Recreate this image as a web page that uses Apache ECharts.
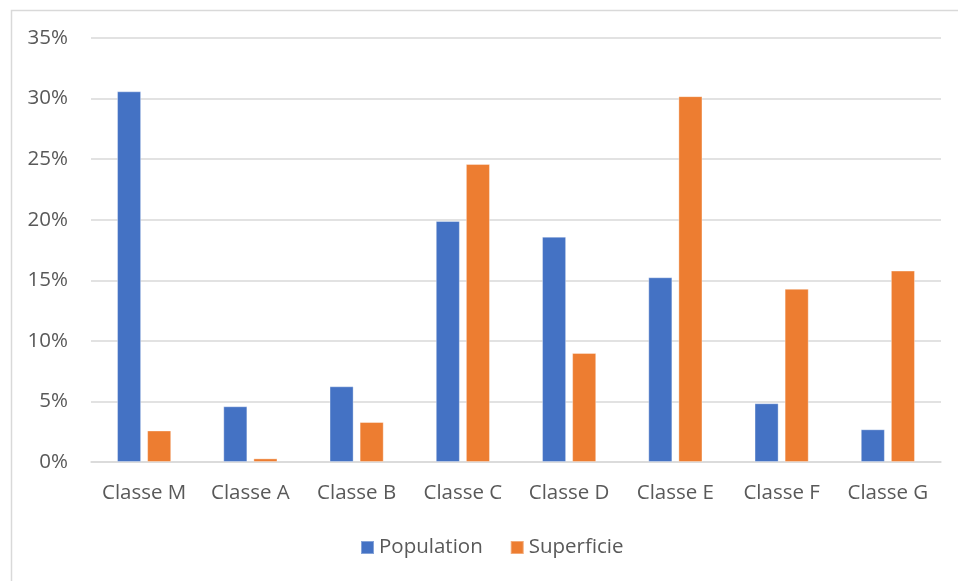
<!DOCTYPE html>
<html><head><meta charset="utf-8">
<script src="https://cdn.jsdelivr.net/npm/echarts@6/dist/echarts.min.js"></script>
<style>html,body{margin:0;padding:0;background:#fff}#c{width:958px;height:581px}</style>
</head><body><div id="c"></div>
<script>
const categories = ['Classe M','Classe A','Classe B','Classe C','Classe D','Classe E','Classe F','Classe G'];
const population = [30.6, 4.6, 6.25, 19.9, 18.6, 15.25, 4.85, 2.7];
const superficie = [2.6, 0.3, 3.3, 24.6, 9.0, 30.2, 14.3, 15.8];
const yTicks = [0, 5, 10, 15, 20, 25, 30, 35];

const font = "'Open Sans', 'Noto Sans', sans-serif";
const chart = echarts.init(document.getElementById('c'), null, {renderer: 'canvas'});
chart.setOption({
  animation: false,
  backgroundColor: '#fff',
  graphic: [{
    type: 'rect', left: 9, top: 8, z: -10,
    shape: {width: 970, height: 600},
    style: {fill: 'none', stroke: '#d9d9d9', lineWidth: 1.5}
  }],
  grid: {left: 91, right: 17, top: 38, bottom: 119},
  legend: {
    data: ['Population', 'Superficie'],
    top: 532, left: 355,
    itemWidth: 13, itemHeight: 13, itemGap: 27,
    icon: 'rect',
    textStyle: {color: '#595959', fontSize: 20.5, fontFamily: font}
  },
  xAxis: {
    type: 'category', data: categories,
    axisLine: {lineStyle: {color: '#d9d9d9', width: 1.5}},
    axisTick: {show: false},
    axisLabel: {color: '#595959', fontSize: 20.5, fontFamily: font, margin: 21, interval: 0}
  },
  yAxis: {
    type: 'value', min: yTicks[0], max: yTicks[yTicks.length - 1], interval: 5,
    axisLine: {show: false}, axisTick: {show: false},
    splitLine: {lineStyle: {color: '#d9d9d9', width: 1.5}},
    axisLabel: {color: '#595959', fontSize: 20.5, fontFamily: font, margin: 23, formatter: v => v + '%'}
  },
  series: [
    {name: 'Population', type: 'bar', data: population, barGap: '25%', barCategoryGap: '49%',
     itemStyle: {color: '#4472C4', borderColor: 'rgba(255,255,255,0.35)', borderWidth: 1}},
    {name: 'Superficie', type: 'bar', data: superficie,
     itemStyle: {color: '#ED7D31', borderColor: 'rgba(255,255,255,0.35)', borderWidth: 1}}
  ]
});
</script></body></html>
